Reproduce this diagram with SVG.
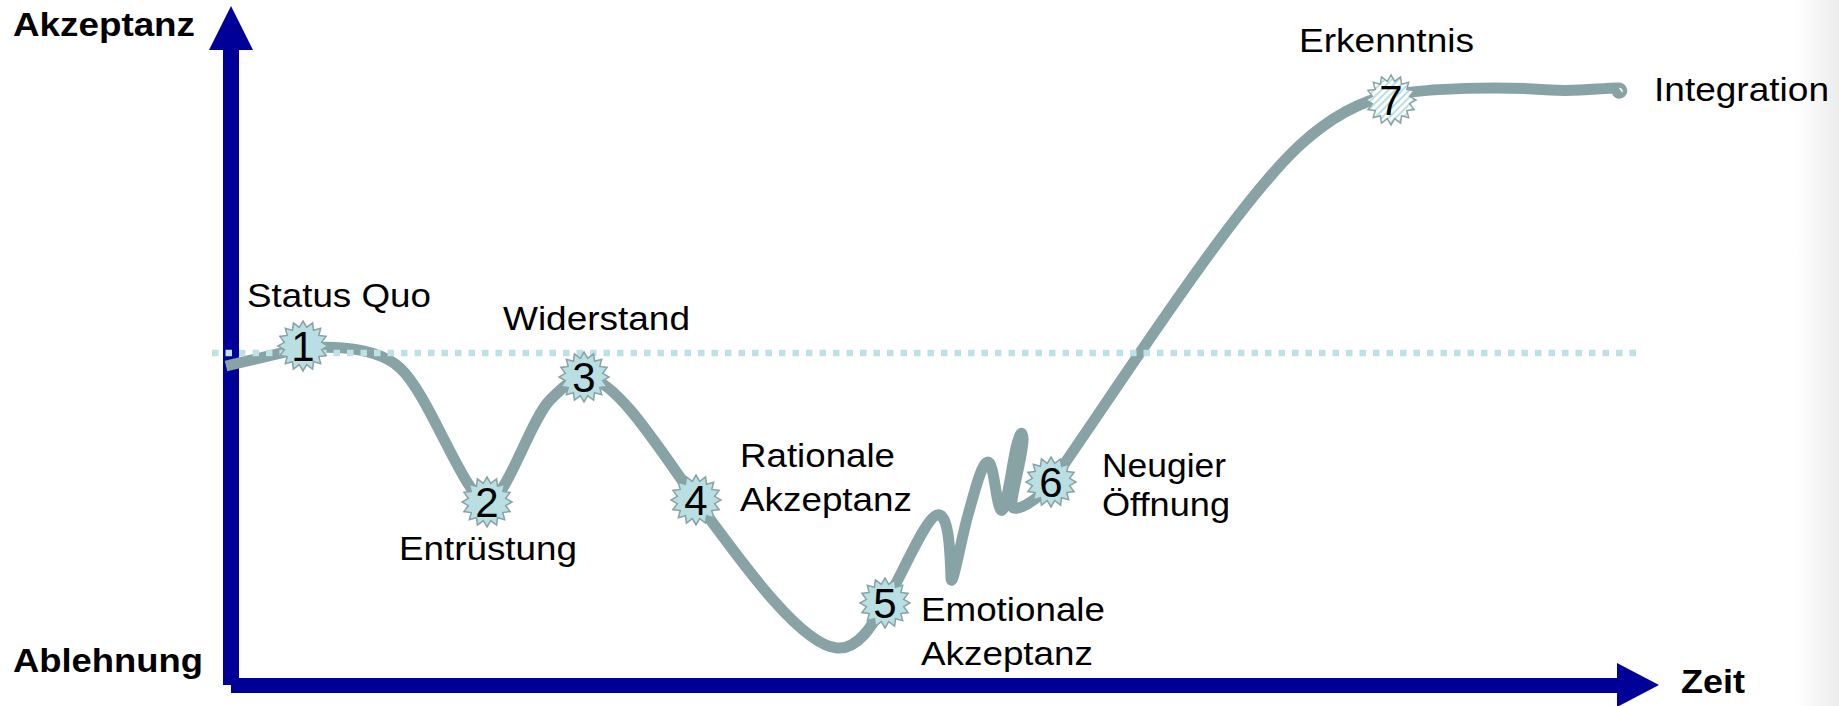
<svg xmlns="http://www.w3.org/2000/svg" width="1839" height="706" viewBox="0 0 1839 706">
  <style>
    .axis { fill: #000099; }
    .lbl { font-family: "Liberation Sans", Arial, sans-serif; font-size: 33.5px; fill: #000; }
    .bold { font-weight: bold; }
    .num { font-family: "Liberation Sans", Arial, sans-serif; font-size: 42px; fill: #000; text-anchor: middle; }
    .curve { fill: none; stroke: #88A3A5; stroke-width: 11; stroke-linejoin: round; stroke-linecap: butt; }
    .baseline { fill: none; stroke: #BDE1E4; stroke-width: 6.5; stroke-dasharray: 6.5 7; }
    .burst { fill: #B9DFE3; stroke: #88A3A5; stroke-width: 1.5; }
  </style>
  <defs>
    <linearGradient id="edgeShade" x1="0" y1="0" x2="1" y2="0">
      <stop offset="0" stop-color="#ffffff"/>
      <stop offset="1" stop-color="#ececec"/>
    </linearGradient>
    <pattern id="hatch" width="5" height="5" patternUnits="userSpaceOnUse" patternTransform="rotate(45)">
      <rect width="5" height="5" fill="#ffffff"/>
      <rect width="2" height="5" fill="#B9DFE3"/>
    </pattern>
    <polygon id="star" points="0,-25 3.71,-18.64 9.57,-23.1 10.56,-15.8 17.68,-17.68 15.8,-10.56 23.1,-9.57 18.64,-3.71 25,0 18.64,3.71 23.1,9.57 15.8,10.56 17.68,17.68 10.56,15.8 9.57,23.1 3.71,18.64 0,25 -3.71,18.64 -9.57,23.1 -10.56,15.8 -17.68,17.68 -15.8,10.56 -23.1,9.57 -18.64,3.71 -25,0 -18.64,-3.71 -23.1,-9.57 -15.8,-10.56 -17.68,-17.68 -10.56,-15.8 -9.57,-23.1 -3.71,-18.64"/>
  </defs>

  <!-- page background with a soft right-hand edge -->
  <rect width="1839" height="706" fill="#ffffff"/>
  <rect x="1795" y="0" width="44" height="706" fill="url(#edgeShade)"/>

  <!-- axes -->
  <g id="axes">
    <rect class="axis" x="223" y="50" width="16" height="635"/>
    <polygon class="axis" points="209,50 253,50 231,6"/>
    <rect class="axis" x="231" y="678" width="1387" height="15"/>
    <polygon class="axis" points="1617,663 1617,707 1659,685"/>
    <text class="lbl bold" x="13" y="36" textLength="182" lengthAdjust="spacingAndGlyphs">Akzeptanz</text>
    <text class="lbl bold" x="13" y="672" textLength="190" lengthAdjust="spacingAndGlyphs">Ablehnung</text>
    <text class="lbl bold" x="1681" y="693" textLength="64" lengthAdjust="spacingAndGlyphs">Zeit</text>
  </g>

  <!-- connectors: the change curve and the status-quo reference line -->
  <g id="connectors">
    <path class="curve" d="M 226 366 L 290 351
      C 310 346, 372 342, 400 368
      C 430 395, 465 500, 487 502
      C 505 504, 530 420, 550 400
      C 565 385, 575 375, 590 378
      C 620 385, 660 450, 696 500
      C 740 560, 800 645, 837 648
      C 860 650, 875 620, 885 603
      C 900 580, 925 518, 937 515
      C 948 512, 950 545, 951 578
      C 952 592, 962 535, 968 515
      C 975 490, 982 462, 988 462
      C 994 462, 996 505, 1001 510
      C 1006 514, 1012 465, 1016 448
      C 1019 436, 1022 428, 1023 438
      C 1024 452, 1010 498, 1012 506
      C 1015 514, 1038 500, 1051 483
      C 1110 400, 1230 210, 1300 145
      C 1335 113, 1365 100, 1391 95
      C 1430 88, 1500 86, 1550 90
      C 1580 92, 1600 88, 1618 88
      c 4 0, 5 4, 2 5
      c -3 1, -4 -3, -1 -5"/>
    <line class="baseline" x1="212" y1="353" x2="1642" y2="353"/>
  </g>

  <!-- phase markers -->
  <g id="phase1">
    <use href="#star" class="burst" x="303" y="346"/>
    <text class="num" x="303" y="361">1</text>
    <text class="lbl" x="247" y="307" textLength="184" lengthAdjust="spacingAndGlyphs">Status Quo</text>
  </g>
  <g id="phase2">
    <use href="#star" class="burst" x="487" y="502"/>
    <text class="num" x="487" y="517">2</text>
    <text class="lbl" x="399" y="560" textLength="178" lengthAdjust="spacingAndGlyphs">Entrüstung</text>
  </g>
  <g id="phase3">
    <use href="#star" class="burst" x="584" y="377"/>
    <text class="num" x="584" y="392">3</text>
    <text class="lbl" x="503" y="330" textLength="187" lengthAdjust="spacingAndGlyphs">Widerstand</text>
  </g>
  <g id="phase4">
    <use href="#star" class="burst" x="696" y="500"/>
    <text class="num" x="696" y="515">4</text>
    <text class="lbl" x="740" y="467" textLength="155" lengthAdjust="spacingAndGlyphs">Rationale</text>
    <text class="lbl" x="740" y="511" textLength="172" lengthAdjust="spacingAndGlyphs">Akzeptanz</text>
  </g>
  <g id="phase5">
    <use href="#star" class="burst" x="885" y="603"/>
    <text class="num" x="885" y="618">5</text>
    <text class="lbl" x="921" y="621" textLength="184" lengthAdjust="spacingAndGlyphs">Emotionale</text>
    <text class="lbl" x="921" y="665" textLength="172" lengthAdjust="spacingAndGlyphs">Akzeptanz</text>
  </g>
  <g id="phase6">
    <use href="#star" class="burst" x="1051" y="482"/>
    <text class="num" x="1051" y="497">6</text>
    <text class="lbl" x="1102" y="477" textLength="124" lengthAdjust="spacingAndGlyphs">Neugier</text>
    <text class="lbl" x="1102" y="516" textLength="128" lengthAdjust="spacingAndGlyphs">Öffnung</text>
  </g>
  <g id="phase7">
    <use href="#star" class="burst" x="1391" y="100" style="fill:url(#hatch)"/>
    <text class="num" x="1391" y="115">7</text>
    <text class="lbl" x="1299" y="52" textLength="175" lengthAdjust="spacingAndGlyphs">Erkenntnis</text>
  </g>
  <g id="integration">
    <text class="lbl" x="1654" y="101" textLength="175" lengthAdjust="spacingAndGlyphs">Integration</text>
  </g>
</svg>
